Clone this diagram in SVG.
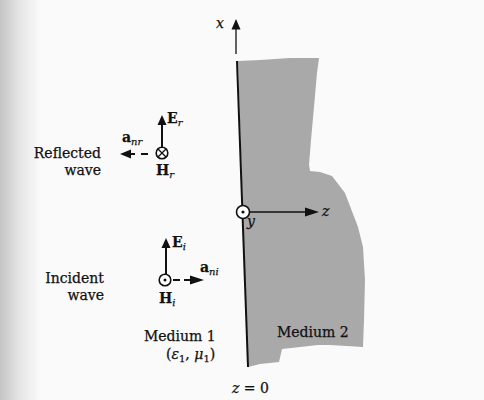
<svg xmlns="http://www.w3.org/2000/svg" width="484" height="400" viewBox="0 0 484 400">
  <defs>
    <linearGradient id="edge" x1="0" y1="0" x2="1" y2="0">
      <stop offset="0" stop-color="#c4c4c4"/>
      <stop offset="0.5" stop-color="#e6e6e6"/>
      <stop offset="1" stop-color="#fafafa"/>
    </linearGradient>
    <style>
      .t { font-family: "DejaVu Serif", "Liberation Serif", serif; font-size: 14px; fill: #111; stroke: #111; stroke-width: 0.25; }
      .it { font-style: italic; }
      .b { font-weight: bold; font-size: 14px; }
      .sub { font-style: italic; font-size: 10px; font-weight: normal; }
      .ax { stroke: #111; stroke-width: 1.3; fill: none; }
      .stem { stroke: #111; stroke-width: 2; fill: none; }
      .head { fill: #111; stroke: none; }
      .ring { fill: #fff; stroke: #111; stroke-width: 1.6; }
    </style>
  </defs>

  <rect x="0" y="0" width="484" height="400" fill="#fafafa"/>
  <rect x="0" y="0" width="40" height="400" fill="url(#edge)"/>

  <g id="medium2">
    <polygon fill="#a9a9a9" points="238,61 260,60 290,58 319,58 317,73 314,107 311,140 309,165 310,171 320,172 332,176 345,193 358,227 363,247 365,280 364,320 363,347 330,345 318,345 300,347 282,349 279,362 260,364 248,367"/>
    <text class="t" x="277" y="337">Medium 2</text>
  </g>

  <g id="medium1">
    <text class="t" x="144" y="341">Medium 1</text>
    <text class="t" x="166" y="359">(<tspan class="it">ε</tspan><tspan font-size="10" dy="3">1</tspan><tspan dy="-3">, </tspan><tspan class="it">μ</tspan><tspan font-size="10" dy="3">1</tspan><tspan dy="-3">)</tspan></text>
  </g>

  <g id="interface">
    <line x1="237" y1="61" x2="248" y2="367" stroke="#111" stroke-width="2"/>
    <text class="t" x="232" y="393"><tspan class="it">z</tspan> = 0</text>
  </g>

  <g id="connectors">
    <!-- x axis -->
    <line class="ax" x1="236" y1="29" x2="236" y2="54"/>
    <polygon class="head" points="236,19 231.5,29.5 240.5,29.5"/>
    <!-- z axis -->
    <line class="ax" x1="250" y1="212" x2="307" y2="212"/>
    <polygon class="head" points="319,212 305,207.5 305,216.5"/>
    <!-- E_r -->
    <line class="stem" x1="162" y1="147" x2="162" y2="123"/>
    <polygon class="head" points="162,115 157.5,125 166.5,125"/>
    <!-- a_nr -->
    <line class="stem" x1="141" y1="154" x2="148" y2="154"/>
    <line class="stem" x1="130" y1="154" x2="135" y2="154"/>
    <polygon class="head" points="120,154 131,149.5 131,158.5"/>
    <!-- E_i -->
    <line class="stem" x1="166" y1="274" x2="166" y2="246"/>
    <polygon class="head" points="166,238 161.5,248 170.5,248"/>
    <!-- a_ni -->
    <line class="stem" x1="173" y1="280" x2="180" y2="280"/>
    <line class="stem" x1="184" y1="280" x2="191" y2="280"/>
    <polygon class="head" points="204,280 190,275.5 190,284.5"/>
  </g>

  <g id="axes-labels">
    <text class="t it" x="216" y="28" font-size="13">x</text>
    <text class="t it" x="322" y="216" font-size="13">z</text>
    <circle class="ring" cx="243" cy="212" r="6.5"/>
    <circle cx="243" cy="212" r="1.6" fill="#111"/>
    <text class="t it" x="247" y="226" font-size="13">y</text>
  </g>

  <g id="reflected-wave">
    <text class="t" x="101" y="158" text-anchor="end">Reflected</text>
    <text class="t" x="101" y="175" text-anchor="end">wave</text>
    <circle class="ring" cx="162" cy="153" r="5.8"/>
    <line x1="158" y1="149" x2="166" y2="157" stroke="#111" stroke-width="1.3"/>
    <line x1="166" y1="149" x2="158" y2="157" stroke="#111" stroke-width="1.3"/>
    <text class="t b" x="167" y="123">E<tspan class="sub" dy="3">r</tspan></text>
    <text class="t b" x="122" y="142">a<tspan class="sub" dy="3">nr</tspan></text>
    <text class="t b" x="156" y="175">H<tspan class="sub" dy="3">r</tspan></text>
  </g>

  <g id="incident-wave">
    <text class="t" x="104" y="283" text-anchor="end">Incident</text>
    <text class="t" x="104" y="300" text-anchor="end">wave</text>
    <circle class="ring" cx="165" cy="280" r="5.8"/>
    <circle cx="165" cy="280" r="1.5" fill="#111"/>
    <text class="t b" x="172" y="247">E<tspan class="sub" dy="3">i</tspan></text>
    <text class="t b" x="200" y="272">a<tspan class="sub" dy="3">ni</tspan></text>
    <text class="t b" x="159" y="303">H<tspan class="sub" dy="3">i</tspan></text>
  </g>
</svg>
